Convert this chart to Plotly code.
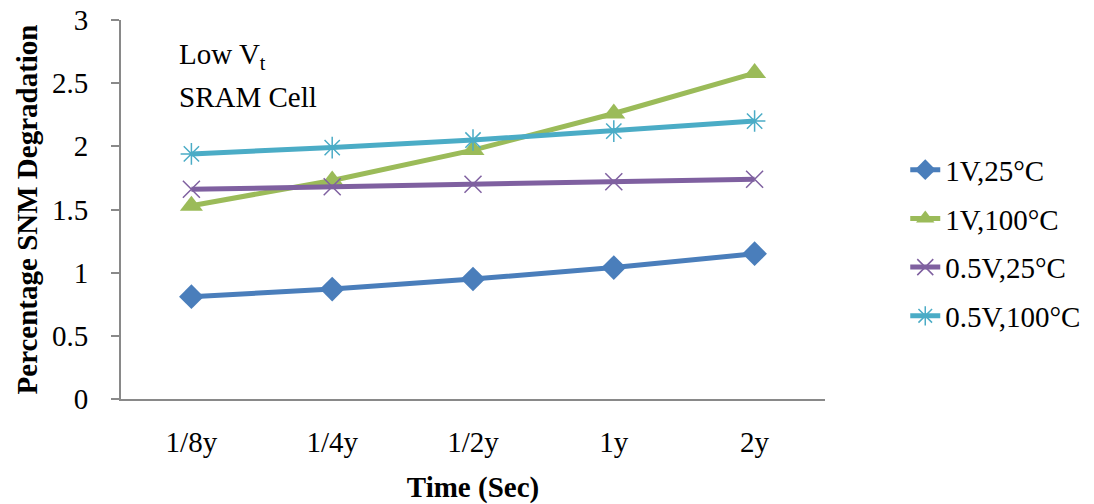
import plotly.graph_objects as go

categories = ["1/8y", "1/4y", "1/2y", "1y", "2y"]
s_1v_25 = [0.81, 0.87, 0.95, 1.04, 1.15]
s_1v_100 = [1.53, 1.73, 1.97, 2.26, 2.58]
s_05v_25 = [1.66, 1.68, 1.70, 1.72, 1.74]
s_05v_100 = [1.94, 1.99, 2.05, 2.12, 2.20]
y_ticks = [0, 0.5, 1, 1.5, 2, 2.5, 3]
y_tick_text = ["0", "0.5", "1", "1.5", "2", "2.5", "3"]

FONT = "Liberation Serif, Times New Roman, serif"
FS = 29

series = [
    ("1V,25°C", s_1v_25, "#4A7EBB", dict(symbol="diamond", size=19)),
    ("1V,100°C", s_1v_100, "#9BBB59", dict(symbol="triangle-up", size=20)),
    ("0.5V,25°C", s_05v_25, "#7F60A0", dict(symbol="x-thin-open", size=17, line=dict(width=1.5, color="#7F60A0"))),
    ("0.5V,100°C", s_05v_100, "#4BACC6", dict(symbol="asterisk-open", size=18, line=dict(width=1.5, color="#4BACC6"))),
]

fig = go.Figure()
for i, (name, vals, color, mk) in enumerate(series):
    marker = dict(color=color, **mk)
    fig.add_trace(go.Scatter(
        x=categories, y=vals, name=name, mode="lines+markers",
        line=dict(color=color, width=5),
        marker=marker, legendgroup=f"g{i}",
    ))

fig.update_layout(
    width=1094, height=504,
    margin=dict(l=121, r=269, t=20, b=105, autoexpand=False),
    plot_bgcolor="white", paper_bgcolor="white",
    font=dict(family=FONT, size=FS, color="black"),
    showlegend=True,
    legend=dict(
        x=1.114, y=0.412, xanchor="left", yanchor="middle",
        font=dict(family=FONT, size=FS, color="black"),
        traceorder="grouped", tracegroupgap=8,
        bgcolor="rgba(0,0,0,0)",
    ),
    xaxis=dict(
        type="category", range=[-0.5, 4.5], automargin=False,
        showline=True, linecolor="#898989", linewidth=2,
        ticks="", showgrid=False, zeroline=False,
        ticklabelstandoff=16,
        tickfont=dict(family=FONT, size=FS),
        title=dict(text="<b>Time (Sec)</b>", font=dict(family=FONT, size=FS), standoff=20),
    ),
    yaxis=dict(
        range=[0, 3], tickvals=y_ticks, ticktext=y_tick_text, automargin=False,
        showline=True, linecolor="#898989", linewidth=2,
        ticks="outside", ticklen=8, tickcolor="#898989", tickwidth=2,
        showgrid=False, zeroline=False,
        ticklabelstandoff=17,
        tickfont=dict(family=FONT, size=FS),
        title=dict(text="<b>Percentage SNM Degradation</b>", font=dict(family=FONT, size=FS), standoff=6),
    ),
    annotations=[
        dict(text="Low V<sub>t</sub>", xref="paper", yref="paper", x=0.079, y=0.905,
             xanchor="left", yanchor="middle", showarrow=False,
             font=dict(family=FONT, size=FS)),
        dict(text="SRAM Cell", xref="paper", yref="paper", x=0.079, y=0.797,
             xanchor="left", yanchor="middle", showarrow=False,
             font=dict(family=FONT, size=FS)),
    ],
)

fig.write_html("out.html")
